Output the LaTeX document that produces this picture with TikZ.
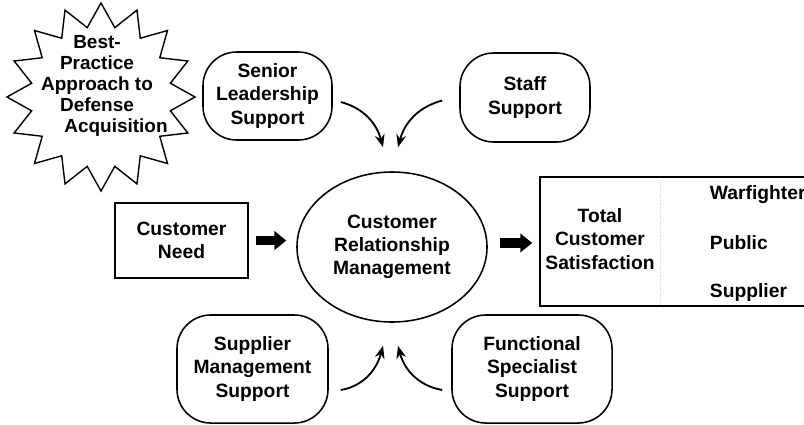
\documentclass[tikz,border=0pt]{standalone}
\usepackage{fontspec}
\setmainfont{Liberation Sans}
\usetikzlibrary{shapes.geometric, arrows.meta}

\begin{document}
\begin{tikzpicture}[x=0.025cm, y=-0.025cm,
    every node/.style={font=\bfseries\fontsize{13.7}{16.5}\selectfont, align=center},
    supportbox/.style={draw, line width=1.1pt, rounded corners=24pt, inner sep=0pt},
    flow/.style={line width=1.3pt, -{Stealth[length=9pt, width=7pt]}},
    bigflow/.style={line width=6.5pt, -{Triangle[length=8.5pt, width=13pt]}}]
    \useasboundingbox (0,0) rectangle (804,424);

    % Best-practice burst
    \node[star, star points=16, star point ratio=1.33, minimum size=4.7cm,
          draw, line width=1pt, inner sep=0pt] (burst) at (101,97) {};
    \node[font=\bfseries\fontsize{13.5}{15}\selectfont] (burstText) at (97,86)
        {Best-\\Practice\\Approach to\\Defense\\\hspace*{0.95cm}Acquisition};

    % Support boxes
    \node[supportbox, minimum width=3.225cm, minimum height=2.2cm] (senior) at (267.5,96)
        {Senior\\Leadership\\Support};
    \node[supportbox, minimum width=3.25cm, minimum height=2.225cm] (staff) at (525,97.5)
        {Staff\\Support};
    \node[supportbox, minimum width=3.775cm, minimum height=2.7cm] (supplier) at (252.5,369)
        {Supplier\\Management\\Support};
    \node[supportbox, minimum width=4cm, minimum height=2.7cm] (functional) at (532,369)
        {Functional\\Specialist\\Support};

    % Need and relationship management
    \node[draw, line width=1.1pt, minimum width=3.325cm, minimum height=1.875cm] (need) at (181.5,240.5)
        {Customer\\Need};
    \node[ellipse, draw, line width=1.1pt, inner sep=0pt, minimum width=4.75cm, minimum height=3.75cm] (crm) at (392,247)
        {Customer\\Relationship\\Management};

    % Satisfaction box (open to the right)
    \draw[line width=1.1pt] (804,177) -- (540,177) -- (540,306) -- (804,306);
    \draw[gray!35, densely dotted, line width=0.6pt] (660,180) -- (660,304);
    \coordinate (totalIn) at (540,243);
    \node (satisfy) at (600,239) {Total\\Customer\\Satisfaction};
    \node[anchor=west] (warfighter) at (705,195) {Warfighter};
    \node[anchor=west] (public) at (705,243) {Public};
    \node[anchor=west] (supplierOut) at (705,293) {Supplier};

    % Main flow
    \draw[bigflow, shorten <=5pt, shorten >=7pt] (need.east) -- (need.east -| crm.west);
    \draw[bigflow, shorten <=9pt, shorten >=5.5pt] (crm.east |- totalIn) -- (totalIn);

    % Support arrows
    \draw[flow] ([shift={(8,6)}]senior.east) to[out=-15, in=105] ([shift={(-9,-24)}]crm.north);
    \draw[flow] ([shift={(-17,3)}]staff.west) to[out=195, in=75] ([shift={(6,-24)}]crm.north);
    \draw[flow] ([shift={(12,21)}]supplier.east) to[out=10, in=-105] ([shift={(-9,23)}]crm.south);
    \draw[flow] ([shift={(-9,21)}]functional.west) to[out=170, in=-75] ([shift={(6,23)}]crm.south);
\end{tikzpicture}
\end{document}
